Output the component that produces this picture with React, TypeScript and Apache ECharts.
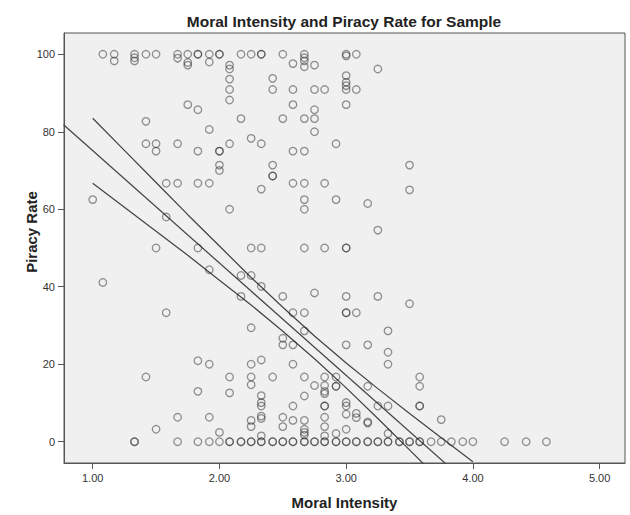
import { useEffect, useRef } from "react";
import * as echarts from "echarts";

const xTicks = [1, 2, 3, 4, 5];
const yTicks = [0, 20, 40, 60, 80, 100];

// [Moral Intensity, Piracy Rate]
const topPoints: [number, number][] = [
  [1.08, 100], [1.17, 100], [1.17, 98.3], [1.33, 100], [1.33, 99.1], [1.33, 98.3], [1.42, 100],
  [1.5, 100], [1.67, 100], [1.67, 99], [1.75, 100], [1.75, 97.9], [1.75, 97.2], [1.83, 100],
  [1.83, 100], [1.92, 100], [1.92, 98], [2.0, 100], [2.0, 100], [2.08, 97.2], [2.08, 96.2],
  [2.08, 93.6], [2.08, 90.9], [2.08, 88.2], [2.17, 100], [1.75, 87], [1.83, 85.7], [1.42, 82.7],
  [1.92, 80.6], [2.17, 83.4], [1.42, 76.9], [1.5, 76.9], [1.5, 75], [1.67, 76.9], [1.83, 75],
  [2.0, 75], [2.0, 75], [2.08, 76.9], [2.0, 71.4], [2.0, 70], [1.58, 66.7], [1.67, 66.7],
  [1.83, 66.7], [1.92, 66.7],
  [2.25, 100], [2.33, 100], [2.33, 100], [2.5, 100], [2.58, 97.6], [2.67, 100], [2.67, 99.1],
  [2.67, 98.3], [2.67, 96.8], [2.75, 97.2], [2.42, 93.8], [2.42, 90.9], [2.58, 90.9], [2.75, 90.9],
  [2.83, 90.9], [3.0, 100], [3.0, 99.6], [3.08, 100], [3.25, 96.2], [3.0, 94.5], [3.0, 92.8],
  [3.0, 91.9], [3.0, 90.9], [3.08, 90.9], [2.58, 87], [2.75, 85.7], [3.0, 87], [2.5, 83.4],
  [2.67, 83.4], [2.75, 83.4], [2.75, 80], [2.25, 78.3], [2.33, 76.9], [2.58, 75], [2.67, 75],
  [2.92, 76.9], [2.42, 71.4], [2.42, 68.6], [2.42, 68.6], [2.58, 66.7], [2.67, 66.7], [2.83, 66.7],
  [2.33, 65.2], [3.5, 71.4], [3.5, 65],
];

const middlePoints: [number, number][] = [
  [1.0, 62.5], [2.08, 60], [1.58, 58], [1.5, 50], [1.83, 50], [1.92, 44.4], [2.17, 42.9],
  [2.17, 37.5], [1.08, 41.1], [1.58, 33.3],
  [2.67, 62.5], [2.92, 62.5], [3.17, 61.5], [2.67, 60], [3.25, 54.6], [2.25, 50], [2.33, 50],
  [2.67, 50], [2.83, 50], [3.0, 50], [3.0, 50], [2.25, 42.9], [2.33, 40.1], [2.5, 37.5],
  [2.75, 38.4], [3.0, 37.5], [3.25, 37.5], [3.5, 35.6], [2.58, 33.3], [2.67, 33.3], [3.0, 33.3],
  [3.0, 33.3], [3.08, 33.3], [2.25, 29.4], [2.67, 28.6], [3.33, 28.6],
];

const lowPoints: [number, number][] = [
  [1.83, 20.9], [1.92, 20], [1.42, 16.7], [2.08, 16.7], [1.83, 13], [2.08, 12.6], [1.67, 6.3],
  [1.92, 6.3], [1.5, 3.2], [2.0, 2.4],
  [2.5, 26.7], [2.5, 25], [2.58, 25], [3.0, 25], [3.17, 25], [3.33, 23.1], [3.33, 20], [2.25, 20],
  [2.33, 21.1], [2.58, 20], [2.25, 16.7], [2.25, 14.7], [2.42, 16.7], [2.67, 16.7], [2.83, 16.7],
  [2.92, 16.7], [2.75, 14.5], [2.83, 14.5], [2.83, 13], [2.83, 12.4], [2.92, 14.3], [2.92, 14.3],
  [3.17, 14.3], [3.58, 16.7], [3.58, 14.3], [2.33, 11.9], [2.33, 10.1], [2.33, 9.2], [2.67, 11.8],
  [2.58, 9.2], [2.83, 9.2], [2.83, 9.2], [3.0, 10.1], [3.0, 9.2], [3.25, 9.2], [3.33, 9.2],
  [3.58, 9.2], [3.58, 9.2], [2.33, 6.6], [2.33, 6.0], [2.25, 5.5], [2.25, 3.9], [2.5, 6.3],
  [2.5, 3.9], [2.58, 5.5], [2.67, 5.5], [2.67, 3.2], [2.67, 2.4], [2.67, 1.7], [2.83, 6.3],
  [2.83, 3.9], [3.0, 7.1], [3.08, 7.3], [3.08, 6.2], [3.17, 5.1], [3.17, 4.8], [3.0, 3.2],
  [2.92, 2.1], [2.83, 1.5], [2.33, 1.5], [3.33, 2.1], [3.75, 5.7],
];

// Moral Intensity values of cases with a piracy rate of 0
const zeroRateX = [
  1.33, 1.33, 1.67, 1.83, 1.92, 2.0, 2.08, 2.08, 2.17, 2.17,
  2.25, 2.33, 2.42, 2.5, 2.58, 2.67, 2.75, 2.83, 2.92, 3.0, 3.08, 3.17, 3.25, 3.33, 3.42, 3.5,
  3.58, 3.67, 3.75, 3.83, 3.92, 4.0, 4.25, 4.42, 4.58,
  2.25, 2.33, 2.42, 2.5, 2.58, 2.67, 2.75, 2.83, 2.92, 3.0, 3.08, 3.17, 3.25, 3.33, 3.42, 3.5, 3.58,
];

// Fit line and 95% confidence band for the mean
const fitX = [0.77, 4.0];
const fitY = [81.8, -11.9];
const bandX = [1.0, 1.25, 1.5, 1.75, 2.0, 2.25, 2.5, 2.75, 3.0, 3.25, 3.5, 3.75, 4.0];
const upperY = [83.5, 75.2, 66.9, 58.6, 50.5, 42.4, 34.7, 27.3, 20.3, 13.7, 7.3, 1.0, -5.2];
const lowerY = [66.7, 60.5, 54.3, 48.1, 41.7, 35.3, 28.5, 21.4, 13.9, 6.0, -2.1, -10.3, -18.6];

export default function App() {
  const ref = useRef<HTMLDivElement>(null);
  useEffect(() => {
    document.body.style.margin = "0";
    const chart = echarts.init(ref.current!, null, { renderer: "svg" });
    const font = "'Liberation Sans', Arial, sans-serif";
    const scatterData = [
      ...topPoints,
      ...middlePoints,
      ...lowPoints,
      ...zeroRateX.map((x) => [x, 0]),
    ];
    const lineStyle = { color: "#444", width: 1.25 };
    chart.setOption({
      animation: false,
      backgroundColor: "#ffffff",
      textStyle: { fontFamily: font },
      title: {
        text: "Moral Intensity and Piracy Rate for Sample",
        left: 339,
        top: 8,
        textAlign: "center",
        textStyle: { fontSize: 15.5, fontWeight: "bold", color: "#222", fontFamily: font },
      },
      grid: {
        left: 64,
        top: 33,
        width: 561,
        height: 434.5,
        show: true,
        backgroundColor: "#f0f0f0",
        borderColor: "#555",
        borderWidth: 1,
      },
      xAxis: {
        type: "value",
        min: 0.7735,
        max: 5.2,
        name: "Moral Intensity",
        nameLocation: "middle",
        nameGap: 32,
        nameTextStyle: { fontSize: 15, fontWeight: "bold", color: "#222", fontFamily: font },
        axisLine: { show: true, onZero: false, lineStyle: { color: "#555" } },
        axisTick: { show: true, length: 6, customValues: xTicks, lineStyle: { color: "#555" } },
        axisLabel: {
          customValues: xTicks,
          formatter: (v: number) => v.toFixed(2),
          margin: 9,
          fontSize: 11,
          color: "#333",
          fontFamily: font,
        },
        splitLine: { show: false },
      },
      yAxis: {
        type: "value",
        min: -5.5,
        max: 105.5,
        axisLine: { show: true, onZero: false, lineStyle: { color: "#555" } },
        axisTick: { show: true, length: 6, customValues: yTicks, lineStyle: { color: "#555" } },
        axisLabel: {
          customValues: yTicks,
          margin: 9,
          fontSize: 11,
          color: "#333",
          fontFamily: font,
        },
        splitLine: { show: false },
      },
      graphic: [
        {
          type: "text",
          x: 31.7,
          y: 232,
          rotation: Math.PI / 2,
          style: {
            text: "Piracy Rate",
            font: `bold 15px ${font}`,
            fill: "#222",
            align: "center",
            verticalAlign: "middle",
          },
        },
      ],
      series: [
        {
          type: "scatter",
          data: scatterData,
          symbol: "circle",
          symbolSize: 7.5,
          itemStyle: { color: "rgba(0,0,0,0)", borderColor: "rgba(40,40,40,0.62)", borderWidth: 1.3 },
          emphasis: { disabled: true },
          z: 3,
        },
        {
          type: "line",
          data: fitX.map((x, i) => [x, fitY[i]]),
          symbol: "none",
          lineStyle,
          clip: true,
          z: 2,
        },
        {
          type: "line",
          data: bandX.map((x, i) => [x, upperY[i]]),
          symbol: "none",
          lineStyle,
          clip: true,
          z: 2,
        },
        {
          type: "line",
          data: bandX.map((x, i) => [x, lowerY[i]]),
          symbol: "none",
          lineStyle,
          clip: true,
          z: 2,
        },
      ],
    });
    return () => chart.dispose();
  }, []);
  return <div ref={ref} style={{ width: 630, height: 515 }} />;
}
